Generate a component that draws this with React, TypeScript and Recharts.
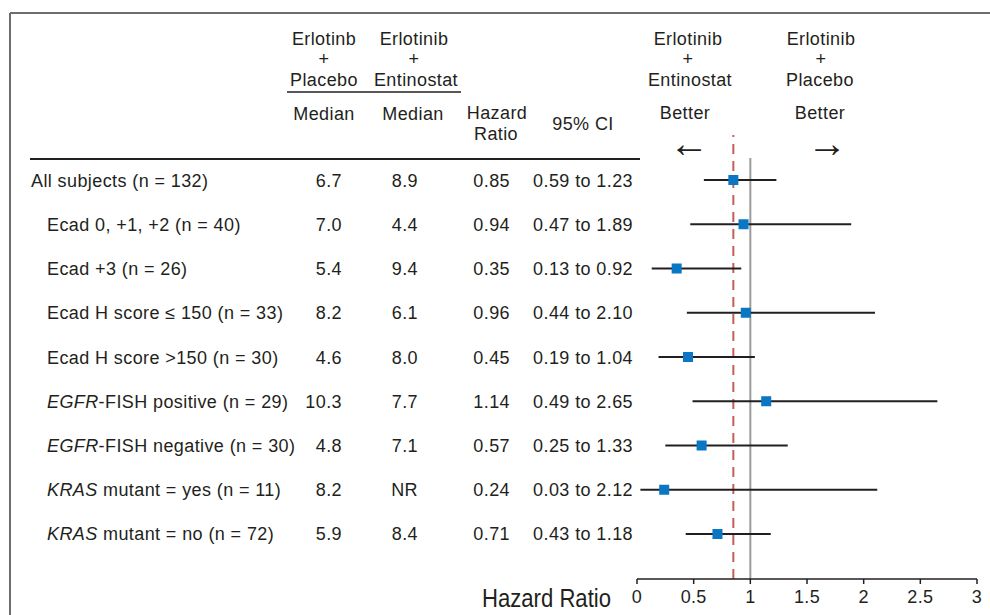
import { ScatterChart, Scatter, XAxis, YAxis, ErrorBar, ReferenceLine, Customized } from 'recharts'

// subgroup rows, top to bottom
const labelItalic = ['', '', '', '', '', 'EGFR', 'EGFR', 'KRAS', 'KRAS']
const labelRest = [
  'All subjects (n = 132)',
  'Ecad 0, +1, +2 (n = 40)',
  'Ecad +3 (n = 26)',
  'Ecad H score \u2264 150 (n = 33)',
  'Ecad H score >150 (n = 30)',
  '-FISH positive (n = 29)',
  '-FISH negative (n = 30)',
  ' mutant = yes (n = 11)',
  ' mutant = no (n = 72)',
]
const placeboMedian = ['6.7', '7.0', '5.4', '8.2', '4.6', '10.3', '4.8', '8.2', '5.9']
const entinostatMedian = ['8.9', '4.4', '9.4', '6.1', '8.0', '7.7', '7.1', 'NR', '8.4']
const hazardRatio = [0.85, 0.94, 0.35, 0.96, 0.45, 1.14, 0.57, 0.24, 0.71]
const ciLow = [0.59, 0.47, 0.13, 0.44, 0.19, 0.49, 0.25, 0.03, 0.43]
const ciHigh = [1.23, 1.89, 0.92, 2.10, 1.04, 2.65, 1.33, 2.12, 1.18]

const xTicks = [0, 0.5, 1, 1.5, 2, 2.5, 3]
const pooledHR = 0.85

const rows = hazardRatio.map((hr, i) => ({
  row: i,
  hr,
  ci: [hr - ciLow[i], ciHigh[i] - hr],
}))

const FONT = '"Liberation Sans", Arial, Helvetica, sans-serif'
const INK = '#231f20'
const txt = { fontFamily: FONT, fontSize: 18, fill: INK, letterSpacing: 0.4 }

function RowTick({ y, payload }: { y: number; payload: { value: number } }) {
  const i = payload.value
  const base = y + 6.5
  return (
    <g>
      <text x={i === 0 ? 31 : 47} y={base} {...txt}>
        {labelItalic[i] && <tspan fontStyle="italic">{labelItalic[i]}</tspan>}
        <tspan>{labelRest[i]}</tspan>
      </text>
      <text x={342} y={base} textAnchor="end" {...txt}>{placeboMedian[i]}</text>
      <text x={418} y={base} textAnchor="end" {...txt}>{entinostatMedian[i]}</text>
      <text x={510} y={base} textAnchor="end" {...txt}>{hazardRatio[i].toFixed(2)}</text>
      <text x={633} y={base} textAnchor="end" {...txt}>
        {ciLow[i].toFixed(2)} to {ciHigh[i].toFixed(2)}
      </text>
    </g>
  )
}

function Square({ cx, cy }: { cx?: number; cy?: number }) {
  if (cx == null || cy == null) return null
  return <rect x={cx - 5} y={cy - 5} width={10} height={10} fill="#0a77c4" />
}

function Header() {
  const c = { ...txt, textAnchor: 'middle' as const }
  const arrow = { ...c, fontSize: 40, letterSpacing: 0 }
  return (
    <g>
      <line x1={10} y1={13} x2={990} y2={13} stroke="#6d6d6d" strokeWidth={2} />
      <line x1={10} y1={13} x2={10} y2={615} stroke="#6d6d6d" strokeWidth={2} />

      <text x={324} y={45} {...c}>Erlotinb</text>
      <text x={324} y={65} {...c}>+</text>
      <text x={324} y={86} {...c}>Placebo</text>
      <text x={414} y={45} {...c}>Erlotinib</text>
      <text x={414} y={65} {...c}>+</text>
      <text x={416} y={86} {...c}>Entinostat</text>
      <line x1={287} y1={92} x2={461} y2={92} stroke={INK} strokeWidth={1.5} />
      <text x={324} y={120} {...c}>Median</text>
      <text x={413} y={120} {...c}>Median</text>
      <text x={497} y={119} {...c}>Hazard</text>
      <text x={496} y={140} {...c}>Ratio</text>
      <text x={583} y={130} {...c}>95% CI</text>
      <line x1={30} y1={159} x2={640} y2={159} stroke={INK} strokeWidth={2} />

      <text x={688} y={45} {...c}>Erlotinib</text>
      <text x={688} y={65} {...c}>+</text>
      <text x={690} y={86} {...c}>Entinostat</text>
      <text x={685} y={119} {...c}>Better</text>
      <text x={689} y={157} {...arrow}>{'\u2190'}</text>

      <text x={821} y={45} {...c}>Erlotinib</text>
      <text x={821} y={65} {...c}>+</text>
      <text x={820} y={86} {...c}>Placebo</text>
      <text x={820} y={119} {...c}>Better</text>
      <text x={827} y={157} {...arrow}>{'\u2192'}</text>

      <text x={482} y={607} fontFamily={'"Liberation Sans Narrow", "Arial Narrow", ' + FONT} fontSize={26}
        fill={INK} textLength={129} lengthAdjust="spacingAndGlyphs">Hazard Ratio</text>
    </g>
  )
}

export default function App() {
  return (
    <div style={{ width: 990, height: 615, background: '#fff' }}>
      <style>{'body{margin:0}'}</style>
      <ScatterChart width={990} height={615} margin={{ top: 135, right: 13, bottom: 6, left: 0 }}>
        <XAxis type="number" dataKey="hr" domain={[0, 3]} ticks={xTicks} interval={0}
          height={30} tickSize={5} tickMargin={6}
          stroke={INK} strokeWidth={1.5}
          tick={{ fontSize: 18, fill: INK, fontFamily: FONT, letterSpacing: 0.3 }} />
        <YAxis type="number" dataKey="row" domain={[-1.017, 9.017]} reversed
          ticks={[0, 1, 2, 3, 4, 5, 6, 7, 8]} interval={0} width={637}
          axisLine={false} tickLine={false} tick={RowTick} />
        <ReferenceLine segment={[{ x: 1, y: -0.5 }, { x: 1, y: 9.017 }]} stroke="#9b9b9b" strokeWidth={2} />
        <ReferenceLine x={pooledHR} stroke="#c25f58" strokeWidth={2} strokeDasharray="10 7" />
        <Scatter data={rows} shape={Square} isAnimationActive={false}>
          <ErrorBar dataKey="ci" direction="x" width={0} stroke={INK} strokeWidth={2} />
        </Scatter>
        <Customized component={Header} />
      </ScatterChart>
    </div>
  )
}
